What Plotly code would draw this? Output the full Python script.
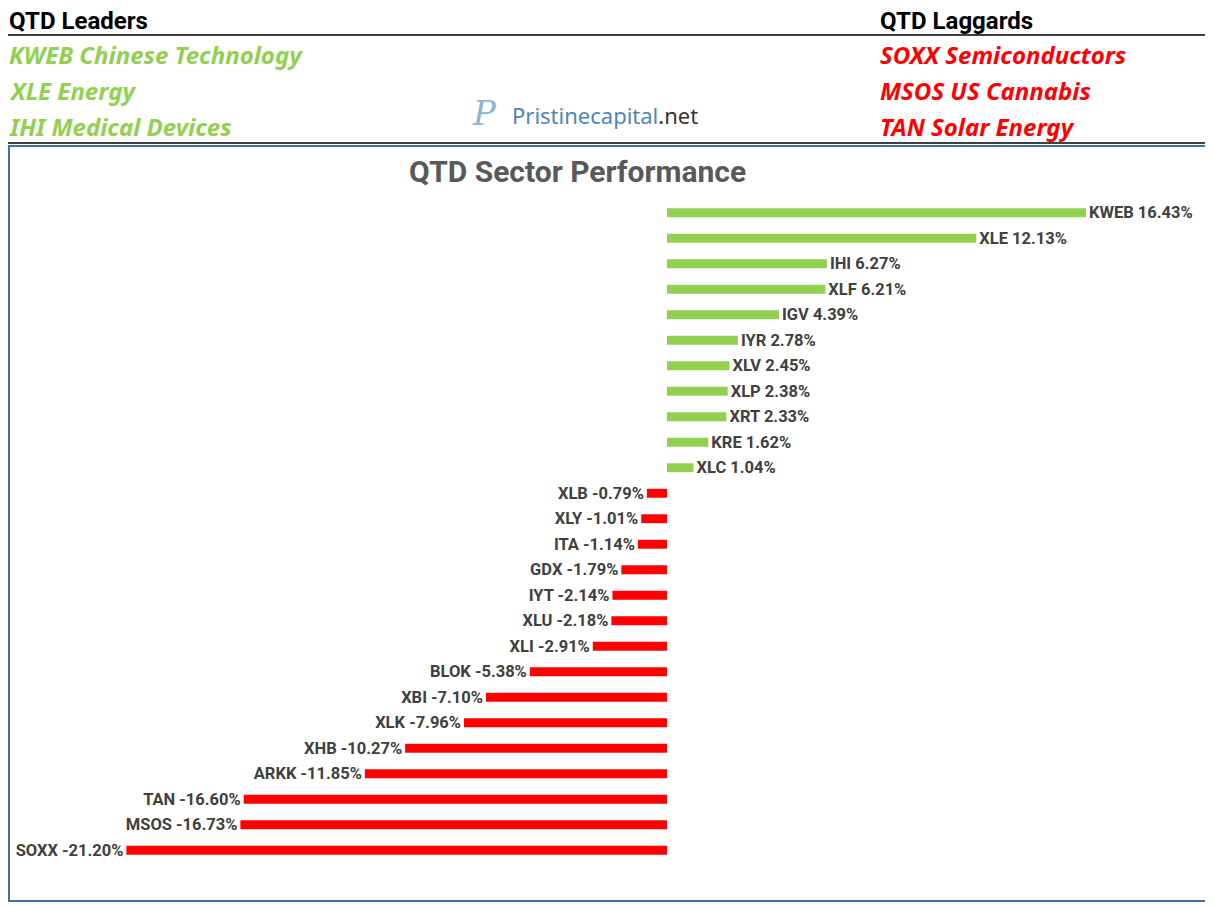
"""
Horizontal bar chart of QTD sector ETF performance with a leaders / laggards header.
"""

import plotly.graph_objects as go

tickers = [
    "KWEB", "XLE", "IHI", "XLF", "IGV", "IYR", "XLV", "XLP", "XRT", "KRE", "XLC",
    "XLB", "XLY", "ITA", "GDX", "IYT", "XLU", "XLI", "BLOK", "XBI", "XLK",
    "XHB", "ARKK", "TAN", "MSOS", "SOXX",
]
returns_pct = [
    16.43, 12.13, 6.27, 6.21, 4.39, 2.78, 2.45, 2.38, 2.33, 1.62, 1.04,
    -0.79, -1.01, -1.14, -1.79, -2.14, -2.18, -2.91, -5.38, -7.10, -7.96,
    -10.27, -11.85, -16.60, -16.73, -21.20,
]
leaders = ["KWEB Chinese Technology", "XLE Energy", "IHI Medical Devices"]
laggards = ["SOXX Semiconductors", "MSOS US Cannabis", "TAN Solar Energy"]

GREEN = "#92D050"
RED = "#FF0000"
LABEL = "#404040"
BOX = "#41719C"
FONT = "Roboto, sans-serif"
HEAD_FONT = "Noto Sans, sans-serif"

# the page body adds an 8px margin, so work in figure pixels = screen pixels - 8
OFF = 8
W, H = 1213 - OFF, 906 - OFF
M_L, M_R, M_T, M_B = 0, 0, 200 - OFF, 43
PW = W - M_L - M_R
PH = H - M_T - M_B
ZERO_PX, PX_PER_PCT = 667 - OFF, 25.5


def px(x):
    return (x - OFF - M_L) / PW


def py(y):
    return 1 - (y - OFF - M_T) / PH


colors = [GREEN if v >= 0 else RED for v in returns_pct]
labels = [f"{t} {v:.2f}%" for t, v in zip(tickers, returns_pct)]

fig = go.Figure(
    go.Bar(
        x=returns_pct,
        y=tickers,
        orientation="h",
        width=0.35,
        marker=dict(color=colors, line=dict(width=0)),
        text=labels,
        textposition="outside",
        constraintext="none",
        textfont=dict(family=FONT, size=16.5, color=LABEL, weight="bold"),
        cliponaxis=False,
        hoverinfo="skip",
    )
)

x_lo = (M_L - ZERO_PX) / PX_PER_PCT
x_hi = (W - M_R - ZERO_PX) / PX_PER_PCT

fig.update_layout(
    width=W,
    height=H,
    margin=dict(l=M_L, r=M_R, t=M_T, b=M_B),
    paper_bgcolor="white",
    plot_bgcolor="white",
    showlegend=False,
    xaxis=dict(range=[x_lo, x_hi], visible=False, fixedrange=True),
    yaxis=dict(
        categoryorder="array",
        categoryarray=tickers[::-1],
        range=[-0.5, len(tickers) - 0.5],
        visible=False,
        fixedrange=True,
    ),
)

shapes = [
    dict(type="line", x0=px(8), x1=px(1210), y0=py(35), y1=py(35),
         line=dict(color="black", width=1.5)),
    dict(type="line", x0=px(8), x1=px(1210), y0=py(143), y1=py(143),
         line=dict(color="black", width=1.5)),
    dict(type="rect", x0=px(9), x1=px(1209), y0=py(146), y1=py(901),
         line=dict(color=BOX, width=2)),
]
for s in shapes:
    s.update(xref="paper", yref="paper", layer="below")
fig.update_layout(shapes=shapes)

ann = []
for x_pos, head in [(8, "QTD Leaders"), (879, "QTD Laggards")]:
    ann.append(dict(x=px(x_pos), y=py(21), text=f"<b>{head}</b>", xanchor="left",
                    borderpad=0,
                    font=dict(family=FONT, size=24, color="black")))
for i, name in enumerate(leaders):
    ann.append(dict(x=px(7), y=py(55 + 36 * i), text=f"<b><i>{name}</i></b>", xanchor="left",
                    font=dict(family=HEAD_FONT, size=24, color=GREEN)))
for i, name in enumerate(laggards):
    ann.append(dict(x=px(878), y=py(55 + 36 * i), text=f"<b><i>{name}</i></b>", xanchor="left",
                    font=dict(family=HEAD_FONT, size=24, color=RED)))

ann.append(dict(x=px(470), y=py(113), text="<i>P</i>", xanchor="left",
                font=dict(family="DejaVu Serif, serif", size=34, color="#8DB3D9")))
ann.append(dict(x=px(510), y=py(115),
                text="<span style='color:#4F86B8'>Pristinecapital</span>"
                     "<span style='color:#333333'>.net</span>",
                xanchor="left",
                font=dict(family=HEAD_FONT, size=22)))

ann.append(dict(x=px(577), y=py(172), text="<b>QTD Sector Performance</b>",
                font=dict(family=FONT, size=30, color="#595959")))

for a in ann:
    a.update(xref="paper", yref="paper", showarrow=False, yanchor="middle")
fig.update_layout(annotations=ann)

fig.write_html("out.html")
